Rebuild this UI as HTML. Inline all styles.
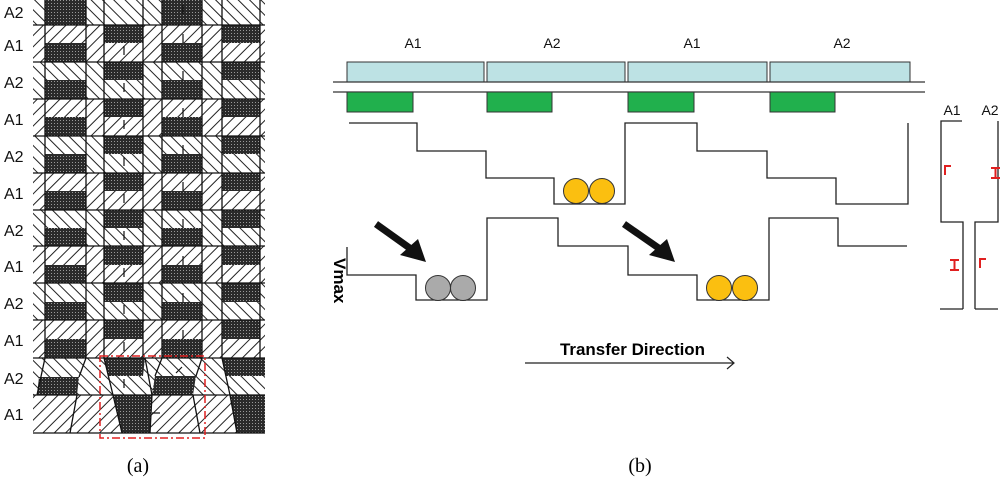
<!DOCTYPE html>
<html><head><meta charset="utf-8"><style>html,body{margin:0;padding:0;background:#fff}svg{display:block}</style></head>
<body>
<svg width="1000" height="480" viewBox="0 0 1000 480" xmlns="http://www.w3.org/2000/svg" font-family="Liberation Sans, sans-serif">
<defs>
<pattern id="hf" patternUnits="userSpaceOnUse" width="8" height="8" patternTransform="rotate(45)"><rect width="8" height="8" fill="#fff"/><line x1="0" y1="0" x2="0" y2="8" stroke="#222" stroke-width="2"/></pattern>
<pattern id="hb" patternUnits="userSpaceOnUse" width="8" height="8" patternTransform="rotate(-45)"><rect width="8" height="8" fill="#fff"/><line x1="0" y1="0" x2="0" y2="8" stroke="#222" stroke-width="2"/></pattern>
<pattern id="dk" patternUnits="userSpaceOnUse" width="3" height="3"><rect width="3" height="3" fill="#2a2a2a"/><rect width="1" height="1" fill="#999"/></pattern>
</defs>

<g>
<rect x="33" y="0" width="232" height="25" fill="url(#hb)"/>
<rect x="33" y="25" width="232" height="37" fill="url(#hf)"/>
<rect x="33" y="62" width="232" height="37" fill="url(#hb)"/>
<rect x="33" y="99" width="232" height="37" fill="url(#hf)"/>
<rect x="33" y="136" width="232" height="37" fill="url(#hb)"/>
<rect x="33" y="173" width="232" height="37" fill="url(#hf)"/>
<rect x="33" y="210" width="232" height="36" fill="url(#hb)"/>
<rect x="33" y="246" width="232" height="37" fill="url(#hf)"/>
<rect x="33" y="283" width="232" height="37" fill="url(#hb)"/>
<rect x="33" y="320" width="232" height="38" fill="url(#hf)"/>
<rect x="33" y="358" width="232" height="37" fill="url(#hb)"/>
<rect x="33" y="395" width="232" height="38" fill="url(#hf)"/>
</g>
<g fill="url(#dk)">
<rect x="45" y="0" width="41" height="25"/><rect x="162" y="0" width="40" height="25"/>
<rect x="45" y="43" width="41" height="19"/><rect x="104" y="25" width="39" height="18"/><rect x="162" y="43" width="40" height="19"/><rect x="222" y="25" width="38" height="18"/>
<rect x="45" y="80" width="41" height="19"/><rect x="104" y="62" width="39" height="18"/><rect x="162" y="80" width="40" height="19"/><rect x="222" y="62" width="38" height="18"/>
<rect x="45" y="117" width="41" height="19"/><rect x="104" y="99" width="39" height="18"/><rect x="162" y="117" width="40" height="19"/><rect x="222" y="99" width="38" height="18"/>
<rect x="45" y="154" width="41" height="19"/><rect x="104" y="136" width="39" height="18"/><rect x="162" y="154" width="40" height="19"/><rect x="222" y="136" width="38" height="18"/>
<rect x="45" y="191" width="41" height="19"/><rect x="104" y="173" width="39" height="18"/><rect x="162" y="191" width="40" height="19"/><rect x="222" y="173" width="38" height="18"/>
<rect x="45" y="228" width="41" height="18"/><rect x="104" y="210" width="39" height="18"/><rect x="162" y="228" width="40" height="18"/><rect x="222" y="210" width="38" height="18"/>
<rect x="45" y="265" width="41" height="18"/><rect x="104" y="246" width="39" height="19"/><rect x="162" y="265" width="40" height="18"/><rect x="222" y="246" width="38" height="19"/>
<rect x="45" y="302" width="41" height="18"/><rect x="104" y="283" width="39" height="19"/><rect x="162" y="302" width="40" height="18"/><rect x="222" y="283" width="38" height="19"/>
<rect x="45" y="339" width="41" height="19"/><rect x="104" y="320" width="39" height="19"/><rect x="162" y="339" width="40" height="19"/><rect x="222" y="320" width="38" height="19"/>
<polygon points="39,377 79,377 77,395 37,395"/>
<polygon points="104,358 145,358 143,376 108,376"/>
<polygon points="155,376 196,376 193,395 152,395"/>
<polygon points="222,358 265,358 265,376 226,376"/>
<polygon points="113,395 152,395 150,433 122,433"/>
<polygon points="230,395 265,395 265,433 237,433"/>
</g>
<g stroke="#111" stroke-width="1.3" fill="none">
<path d="M33 25H265M33 62H265M33 99H265M33 136H265M33 173H265M33 210H265M33 246H265M33 283H265M33 320H265M33 358H265M33 395H265M33 433H265"/>
<path d="M45 0V358M86 0V358M104 0V358M143 0V358M162 0V358M202 0V358M222 0V358M260 0V358"/>
<path d="M37 395L45 358M79 377L86 358M77 395L70 433M104 358L113 395M145 358L152 395M155 376L162 358M196 376L202 358M193 395L200 433M222 358L230 395M113 395L122 433M152 395L150 433M230 395L237 433"/>
</g>
<g stroke="#111" stroke-width="1.2" fill="#111">
<path d="M124 46v9M124 83v9M124 120v9M124 157v9M124 194v9M124 231v9M124 268v9M124 305v9M124 342v9M124 379v9"/>
<path d="M183 14v-9M183 43v-9M183 80v-9M183 117v-9M183 154v-9M183 191v-9M183 228v-9M183 265v-9M183 302v-9M183 339v-9M176 373l6-6M152 413h8"/>
</g>
<rect x="100" y="356" width="105" height="82" fill="none" stroke="#e02020" stroke-width="1.5" stroke-dasharray="8,3,2,3"/>
<g font-size="16" fill="#111">
<text x="4" y="18">A2</text><text x="4" y="51">A1</text><text x="4" y="88">A2</text><text x="4" y="125">A1</text><text x="4" y="162">A2</text><text x="4" y="199">A1</text><text x="4" y="236">A2</text><text x="4" y="272">A1</text><text x="4" y="309">A2</text><text x="4" y="346">A1</text><text x="4" y="384">A2</text><text x="4" y="420">A1</text>
</g>
<text x="138" y="472" font-family="Liberation Serif, serif" font-size="20" text-anchor="middle">(a)</text>
<text x="640" y="472" font-family="Liberation Serif, serif" font-size="20" text-anchor="middle">(b)</text>

<!-- (b) -->
<g font-size="14" fill="#111" text-anchor="middle">
<text x="413" y="48">A1</text><text x="552" y="48">A2</text><text x="692" y="48">A1</text><text x="842" y="48">A2</text>
</g>
<g fill="#bde2e4" stroke="#333" stroke-width="1">
<rect x="347" y="62" width="137" height="20"/><rect x="487" y="62" width="138" height="20"/><rect x="628" y="62" width="139" height="20"/><rect x="770" y="62" width="140" height="20"/>
</g>
<path d="M333 82H925M333 92H925" stroke="#333" stroke-width="1.3"/>
<g fill="#21b04d" stroke="#333" stroke-width="1">
<rect x="347" y="92" width="66" height="20"/><rect x="487" y="92" width="65" height="20"/><rect x="628" y="92" width="66" height="20"/><rect x="770" y="92" width="65" height="20"/>
</g>
<g stroke="#222" stroke-width="1.3" fill="none">
<path d="M349 123H417V151H486V178H554V204H625V123H697V151H767V178H836V204H908V123"/>
<path d="M347 247V275H416V300H487V218H558V246H628V275H697V300H769V218H838V246H907"/>
</g>
<g stroke="#333" stroke-width="1">
<circle cx="576" cy="191" r="12.5" fill="#fbbf10"/><circle cx="602" cy="191" r="12.5" fill="#fbbf10"/>
<circle cx="438" cy="288" r="12.5" fill="#aaa"/><circle cx="463" cy="288" r="12.5" fill="#aaa"/>
<circle cx="719" cy="288" r="12.5" fill="#fbbf10"/><circle cx="745" cy="288" r="12.5" fill="#fbbf10"/>
</g>
<g fill="#111">
<line x1="376" y1="224" x2="411" y2="249" stroke="#111" stroke-width="7"/>
<polygon points="400,255 418,239 426,262"/>
<line x1="624" y1="224" x2="660" y2="249" stroke="#111" stroke-width="7"/>
<polygon points="649,255 667,239 675,262"/>
</g>
<text transform="translate(334,258) rotate(90)" font-size="17" font-weight="bold">Vmax</text>
<text x="560" y="355" font-size="17" font-weight="bold" textLength="145" lengthAdjust="spacingAndGlyphs">Transfer Direction</text>
<path d="M525 363H734M727 357L734 363L727 369" stroke="#222" stroke-width="1.2" fill="none"/>

<g font-size="14" fill="#111" text-anchor="middle"><text x="952" y="115">A1</text><text x="990" y="115">A2</text></g>
<path d="M962 121H941V222H963V309M940 309H963M998 121V222H975V309M975 309H998" stroke="#222" stroke-width="1.3" fill="none"/>
<g stroke="#e02020" stroke-width="2" fill="none">
<path d="M945 175V166H951"/>
<path d="M991 168H1000M991 178H1000M995.5 168V178"/>
<path d="M950 260H959M950 270H959M954.5 260V270"/>
<path d="M980 268V259H986"/>
</g>
</svg>
</body></html>
